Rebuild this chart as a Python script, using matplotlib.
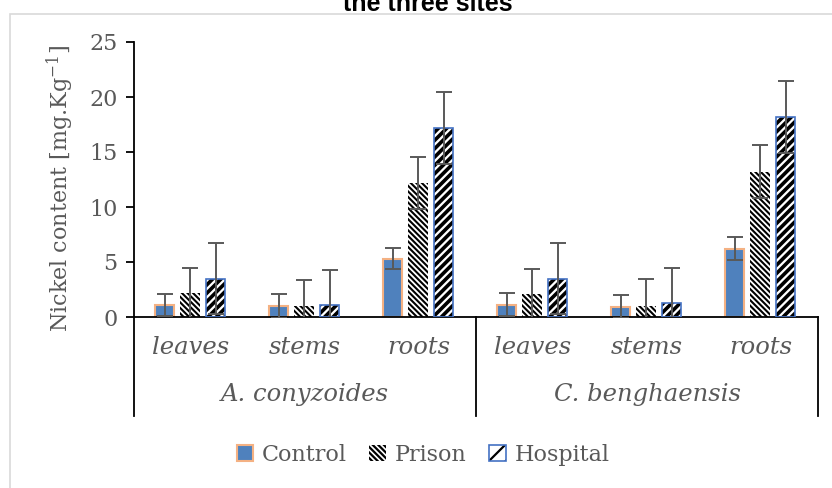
import matplotlib
matplotlib.use("Agg")
import matplotlib.pyplot as plt
import matplotlib.transforms as mtransforms
from matplotlib.patches import Patch, Rectangle
from matplotlib.lines import Line2D
import numpy as np

# data
organs = ["leaves", "stems", "roots"]
species = ["A. conyzoides", "C. benghaensis"]
sites = ["Control", "Prison", "Hospital"]

control = [1.05, 1.0, 5.3, 1.1, 0.95, 6.2]
control_err = [1.0, 1.05, 0.95, 1.05, 1.05, 1.05]
prison = [2.15, 1.0, 12.2, 2.05, 1.0, 13.2]
prison_err = [2.35, 2.35, 2.35, 2.35, 2.45, 2.4]
hospital = [3.5, 1.1, 17.2, 3.5, 1.25, 18.2]
hospital_err = [3.25, 3.2, 3.3, 3.25, 3.25, 3.25]

GRAY = "#595959"
BLUE = "#4F81BD"
ORANGE = "#F4B183"
EDGE_BLUE = "#4472C4"
HATCH_P = "\\" * 6
HATCH_H = "////"

plt.rcParams["font.family"] = ["DejaVu Serif"]
plt.rcParams["hatch.linewidth"] = 1.6


def _hatch_lw(patches, lw):
    # per-patch hatch width (matplotlib >= 3.10)
    for p in patches:
        try:
            p.set_hatch_linewidth(lw)
        except AttributeError:
            pass


fig = plt.figure(figsize=(8.32, 4.88), dpi=100)
ax = fig.add_axes([134 / 832, 1 - 317 / 488, 684 / 832, 275 / 488])

x = np.arange(len(control))
w = 0.17
err_kw = dict(ecolor=GRAY, elinewidth=1.4, capsize=5.8, capthick=1.4, zorder=5)

ax.bar(x - 0.23, control, w, color=BLUE, edgecolor=ORANGE, linewidth=1.5, zorder=2)
ax.errorbar(x - 0.23, control, yerr=control_err, fmt="none", **err_kw)

bars_p = ax.bar(x - 0.01, prison, w + 0.01, color="white", edgecolor="black",
                hatch=HATCH_P, linewidth=0, zorder=2)
_hatch_lw(bars_p, 1.5)
ax.errorbar(x - 0.01, prison, yerr=prison_err, fmt="none", **err_kw)

bars_h = ax.bar(x + 0.215, hospital, w, color="white", edgecolor="black",
                hatch=HATCH_H, linewidth=0, zorder=2)
_hatch_lw(bars_h, 2.6)
ax.bar(x + 0.215, hospital, w, color="none", edgecolor=EDGE_BLUE,
       linewidth=1.2, zorder=3)
ax.errorbar(x + 0.215, hospital, yerr=hospital_err, fmt="none", **err_kw)

ax.set_xlim(-0.5, 5.5)
ax.set_ylim(0, 25)
ax.set_yticks([0, 5, 10, 15, 20, 25])
ax.tick_params(axis="y", direction="out", length=6, width=1.3, colors="black",
               labelcolor=GRAY, labelsize=16, pad=6)
ax.set_xticks([])
for s in ["top", "right"]:
    ax.spines[s].set_visible(False)
for s in ["left", "bottom"]:
    ax.spines[s].set_linewidth(1.3)

# multi-level category axis
tr = mtransforms.blended_transform_factory(ax.transData, fig.transFigure)
for i in range(len(control)):
    ax.text(i, 1 - 347 / 488, organs[i % 3], transform=tr, ha="center",
            va="center", fontsize=17.5, style="italic", color=GRAY)
for j, sp in enumerate(species):
    ax.text(3 * j + 1, 1 - 395 / 488, sp, transform=tr, ha="center",
            va="center", fontsize=17.5, style="italic", color=GRAY)
for xv in [-0.5, 2.5, 5.5]:
    ax.add_line(Line2D([xv, xv], [1 - 317 / 488, 1 - 416 / 488], transform=tr,
                       color="black", linewidth=1.3, clip_on=False))

fig.text(60 / 832, 1 - 188 / 488, "Nickel content [mg.Kg$^{\\mathregular{-1}}$]",
         rotation=90, ha="center", va="center", fontsize=16, color=GRAY)

# legend
h_control = Patch(facecolor=BLUE, edgecolor=ORANGE, linewidth=1.5)
h_prison = Patch(facecolor="white", edgecolor="black", hatch=HATCH_P, linewidth=0)
h_hosp_fill = Patch(facecolor="white", edgecolor="black", hatch="//", linewidth=0)
_hatch_lw([h_prison], 1.5)
_hatch_lw([h_hosp_fill], 2.6)
h_hosp = (h_hosp_fill, Patch(facecolor="none", edgecolor=EDGE_BLUE, linewidth=1.2))
fig.legend([h_control, h_prison, h_hosp], sites, loc="center",
           bbox_to_anchor=(423 / 832, 1 - 455 / 488), ncol=3, frameon=False,
           fontsize=16, labelcolor=GRAY, handlelength=0.75, handleheight=0.75,
           handletextpad=0.4, columnspacing=1.0)

# chart border and clipped title (cut off at the top like the source)
fig.patches.append(Rectangle((10 / 832, -0.1), 2, 1.1 - 14 / 488,
                             transform=fig.transFigure, fill=False,
                             edgecolor="#D9D9D9", linewidth=1.2))
fig.text(428 / 832, 1 - 11 / 488, "the three sites", ha="center", va="baseline",
         fontsize=18, fontweight="bold", family="Liberation Sans", color="black")

fig.savefig("out.png", dpi=100)
